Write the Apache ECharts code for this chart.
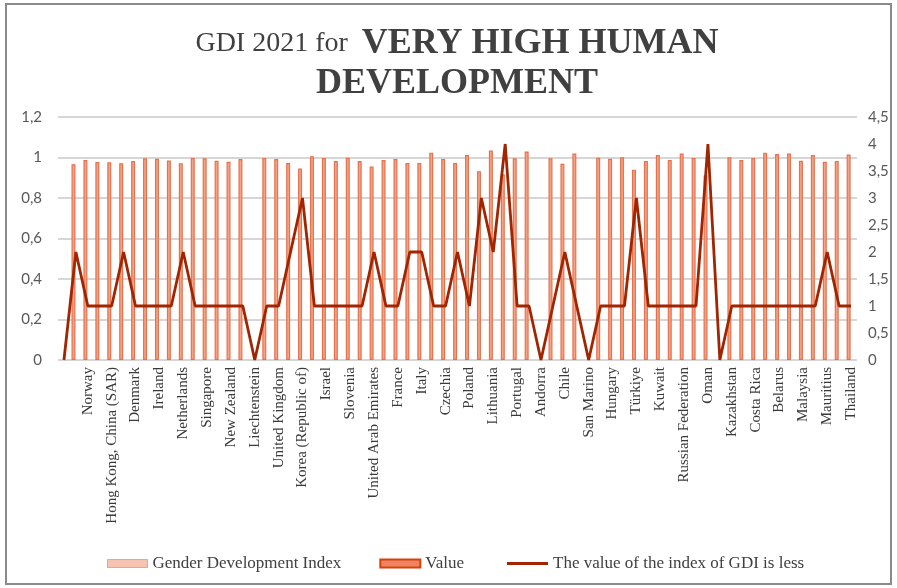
<!DOCTYPE html>
<html>
<head>
<meta charset="utf-8">
<script src="https://cdn.jsdelivr.net/npm/echarts@6/dist/echarts.min.js"></script>
<style>
html,body{margin:0;padding:0;background:#fff;}
#chart{width:897px;height:588px;}
</style>
</head>
<body>
<div id="chart"></div>
<script>
// Categories (first slot is an empty row in the source table)
const categories = ["", "Switzerland", "Norway", "Iceland", "Hong Kong, China (SAR)", "Australia", "Denmark", "Sweden", "Ireland", "Germany", "Netherlands", "Finland", "Singapore", "Belgium", "New Zealand", "Canada", "Liechtenstein", "Luxembourg", "United Kingdom", "Japan", "Korea (Republic of)", "United States", "Israel", "Malta", "Slovenia", "Austria", "United Arab Emirates", "Spain", "France", "Cyprus", "Italy", "Estonia", "Czechia", "Greece", "Poland", "Bahrain", "Lithuania", "Saudi Arabia", "Portugal", "Latvia", "Andorra", "Croatia", "Chile", "Qatar", "San Marino", "Slovakia", "Hungary", "Argentina", "Türkiye", "Montenegro", "Kuwait", "Brunei Darussalam", "Russian Federation", "Romania", "Oman", "Bahamas", "Kazakhstan", "Trinidad and Tobago", "Costa Rica", "Uruguay", "Belarus", "Panama", "Malaysia", "Georgia", "Mauritius", "Serbia", "Thailand"];

// Gender Development Index (left axis); null = no value
const gdiValues = [null, 0.967, 0.988, 0.978, 0.977, 0.971, 0.983, 0.996, 0.994, 0.985, 0.972, 0.997, 0.996, 0.984, 0.979, 0.992, null, 0.997, 0.992, 0.973, 0.946, 1.006, 0.997, 0.983, 0.999, 0.983, 0.955, 0.988, 0.992, 0.973, 0.973, 1.024, 0.992, 0.973, 1.012, 0.932, 1.034, 0.917, 0.996, 1.030, null, 0.996, 0.969, 1.020, null, 0.999, 0.994, 1.001, 0.940, 0.983, 1.012, 0.988, 1.020, 0.997, 0.911, null, 1.001, 0.988, 0.997, 1.024, 1.017, 1.020, 0.984, 1.012, 0.979, 0.983, 1.015];

// "Value" series (no visible bars)
const valueSeries = categories.map(() => null);

// GDI group (right axis)
const groupValues = [0, 2, 1, 1, 1, 2, 1, 1, 1, 1, 2, 1, 1, 1, 1, 1, 0, 1, 1, 2, 3, 1, 1, 1, 1, 1, 2, 1, 1, 2, 2, 1, 1, 2, 1, 3, 2, 4, 1, 1, 0, 1, 2, 1, 0, 1, 1, 1, 3, 1, 1, 1, 1, 1, 4, 0, 1, 1, 1, 1, 1, 1, 1, 1, 2, 1, 1];

const seriesNames = ["Gender Development Index", "Value", "The value of the index of GDI is less"];

const serif = "'Liberation Serif','Times New Roman',serif";
const sans = "Lato,'Liberation Sans',sans-serif";
const fmt = v => String(Math.round(v * 10) / 10).replace('.', ',');
const lineColor = '#a02500';

const chart = echarts.init(document.getElementById('chart'));
chart.setOption({
  animation: false,
  backgroundColor: '#fff',
  title: [
    {
      left: 452, top: 21, textAlign: 'center',
      text: '{a|GDI 2021 for  }{b|VERY HIGH HUMAN}',
      textStyle: {
        rich: {
          a: {fontFamily: serif, fontSize: 28, fontWeight: 'normal', color: '#404040'},
          b: {fontFamily: serif, fontSize: 36, fontWeight: 'bold', color: '#404040'}
        }
      }
    },
    {
      left: 452, top: 61, textAlign: 'center',
      text: 'DEVELOPMENT',
      textStyle: {fontFamily: serif, fontSize: 36, fontWeight: 'bold', color: '#404040'}
    }
  ],
  graphic: [{
    type: 'rect', shape: {x: 6, y: 4, width: 885, height: 580},
    style: {fill: 'none', stroke: '#8a8a8a', lineWidth: 2}, silent: true
  }],
  legend: [
    {
      left: 102, top: 550,
      itemWidth: 40, itemHeight: 8, itemGap: 38,
      textStyle: {fontFamily: serif, fontSize: 17, color: '#404040'},
      data: [
        {name: seriesNames[0], icon: 'rect', itemStyle: {color: '#f8c2b0', borderColor: '#f2a088', borderWidth: 1}},
        {name: seriesNames[1], icon: 'rect', itemStyle: {color: '#ef8461', borderColor: '#d8400c', borderWidth: 2}}
      ]
    },
    {
      left: 502, top: 550,
      itemWidth: 41, itemHeight: 3,
      textStyle: {fontFamily: serif, fontSize: 17, color: '#404040'},
      data: [
        {name: seriesNames[2], icon: 'rect', itemStyle: {color: lineColor}}
      ]
    }
  ],
  grid: {left: 58, right: 40, top: 117, bottom: 228},
  xAxis: {
    type: 'category',
    data: categories,
    boundaryGap: true,
    axisLine: {show: false},
    axisTick: {show: false},
    axisLabel: {
      interval: 1, rotate: 90, margin: 7,
      fontFamily: serif, fontSize: 15, color: '#3a3a3a'
    }
  },
  yAxis: [
    {
      type: 'value', min: 0, max: 1.2, interval: 0.2,
      axisLine: {show: false}, axisTick: {show: false},
      axisLabel: {formatter: fmt, fontFamily: sans, fontSize: 15, color: '#595959', margin: 16},
      splitLine: {lineStyle: {color: '#c8c8c8', width: 1.5}}
    },
    {
      type: 'value', min: 0, max: 4.5, interval: 0.5,
      axisLine: {show: false}, axisTick: {show: false},
      axisLabel: {formatter: fmt, fontFamily: sans, fontSize: 15, color: '#595959', margin: 11},
      splitLine: {show: false}
    }
  ],
  series: [
    {
      name: seriesNames[0], type: 'bar', yAxisIndex: 0,
      data: gdiValues, barWidth: 4, barGap: '20%',
      itemStyle: {color: '#f3a488', borderColor: '#e8714c', borderWidth: 1.2}
    },
    {
      name: seriesNames[1], type: 'bar', yAxisIndex: 0,
      data: valueSeries, barWidth: 4,
      itemStyle: {color: '#ef8461', borderColor: '#d8400c', borderWidth: 1}
    },
    {
      name: seriesNames[2], type: 'line', yAxisIndex: 1,
      data: groupValues, symbol: 'none',
      lineStyle: {color: lineColor, width: 2.8}
    }
  ]
});
</script>
</body>
</html>
